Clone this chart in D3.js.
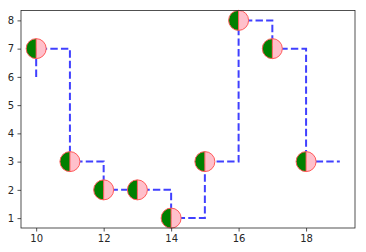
<!DOCTYPE html>
<html>
<head>
<meta charset="utf-8">
<script src="https://cdn.jsdelivr.net/npm/d3@7"></script>
<style>
  html, body { margin: 0; padding: 0; background: #fff; }
  svg { display: block; }
  text { font-family: "DejaVu Sans", sans-serif; }
</style>
</head>
<body>
<div id="chart"></div>
<script>
// step line data (where='pre')
const stepX = [10, 11, 12, 13, 14, 15, 16, 17, 18, 19];
const stepY = [6, 7, 3, 2, 2, 1, 3, 8, 7, 3];
// half-filled markers
const markX = [10, 11, 12, 13, 14, 15, 16, 17, 18];
const markY = [7, 3, 2, 2, 1, 3, 8, 7, 3];
const xTicks = [10, 12, 14, 16, 18];
const yTicks = [1, 2, 3, 4, 5, 6, 7, 8];

const W = 366, H = 252;
const margin = { top: 10.5, right: 11, bottom: 24, left: 21 };
const width = W - margin.left - margin.right;
const height = H - margin.top - margin.bottom;

const svg = d3.select('#chart').append('svg')
  .attr('width', W).attr('height', H);

const g = svg.append('g')
  .attr('transform', `translate(${margin.left},${margin.top})`);

const x = d3.scaleLinear().domain([9.55, 19.45]).range([0, width]);
const y = d3.scaleLinear().domain([0.65, 8.35]).range([height, 0]);

// step path, pre style: vertical first, then horizontal
const pts = [[stepX[0], stepY[0]]];
for (let i = 1; i < stepX.length; i++) {
  pts.push([stepX[i - 1], stepY[i]]);
  pts.push([stepX[i], stepY[i]]);
}

const line = d3.line().x(d => x(d[0])).y(d => y(d[1]));

g.append('path')
  .datum(pts)
  .attr('d', line)
  .attr('fill', 'none')
  .attr('stroke', '#4040ff')
  .attr('stroke-width', 2)
  .attr('stroke-dasharray', '7.4,3.2');

// markers
const r = 10;
const mk = g.append('g').selectAll('g')
  .data(markX.map((xv, i) => ({ x: xv, y: markY[i] })))
  .enter().append('g')
  .attr('transform', d => `translate(${x(d.x)},${y(d.y)})`);

mk.append('path')
  .attr('d', `M0,${-r} A${r},${r} 0 0,0 0,${r} Z`)
  .attr('fill', 'green');
mk.append('path')
  .attr('d', `M0,${-r} A${r},${r} 0 0,1 0,${r} Z`)
  .attr('fill', 'pink');
mk.append('line')
  .attr('x1', 0).attr('x2', 0).attr('y1', -r).attr('y2', r)
  .attr('stroke', '#ff5a5a').attr('stroke-width', 1);
mk.append('circle')
  .attr('r', r)
  .attr('fill', 'none')
  .attr('stroke', '#ff5a5a')
  .attr('stroke-width', 1);

// axes
const xAxis = g.append('g')
  .attr('transform', `translate(0,${height})`)
  .call(d3.axisBottom(x).tickValues(xTicks).tickSize(3.5).tickPadding(3.5));
const yAxis = g.append('g')
  .call(d3.axisLeft(y).tickValues(yTicks).tickSize(3.5).tickPadding(3.5));

[xAxis, yAxis].forEach(a => {
  a.select('.domain').remove();
  a.selectAll('line').attr('stroke', '#262626').attr('stroke-width', 0.8);
  a.selectAll('text').attr('fill', '#262626').attr('font-size', 10)
    .attr('font-family', '"DejaVu Sans", sans-serif');
});

// frame
g.append('rect')
  .attr('width', width).attr('height', height)
  .attr('fill', 'none')
  .attr('stroke', '#262626')
  .attr('stroke-width', 0.8);
</script>
</body>
</html>
